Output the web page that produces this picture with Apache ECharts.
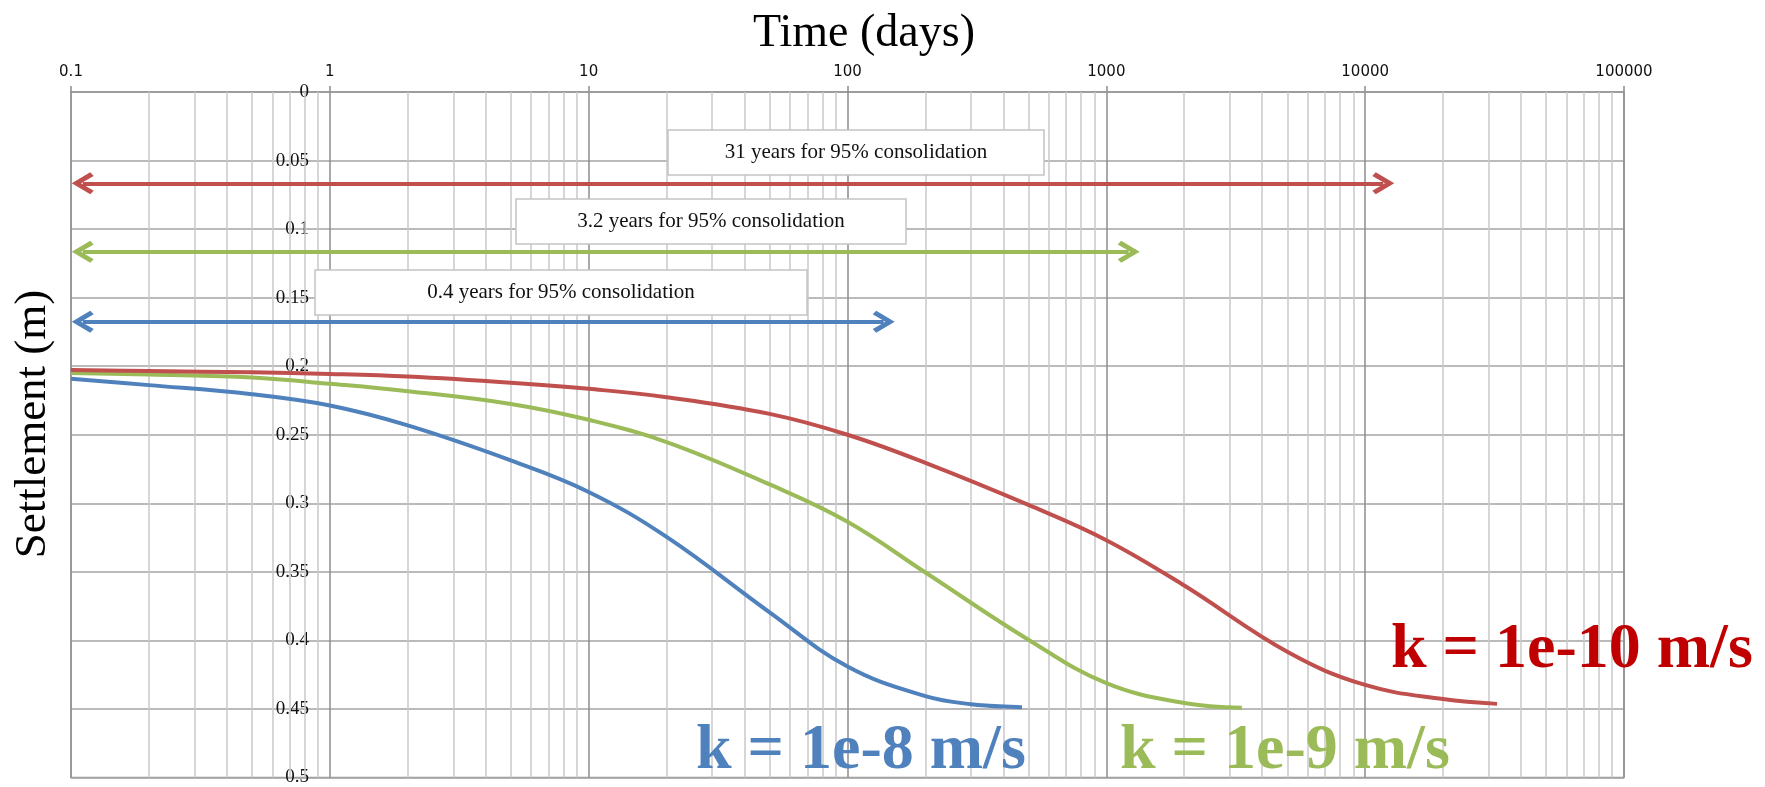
<!DOCTYPE html>
<html>
<head>
<meta charset="utf-8">
<script src="https://cdn.jsdelivr.net/npm/echarts@6.0.0/dist/echarts.min.js"></script>
<style>
  html, body { margin: 0; padding: 0; background: #ffffff; }
  #chart { width: 1765px; height: 787px; }
</style>
</head>
<body>
<div id="chart"></div>
<script>
// ---------- data ----------
const xTickLabels = ['0.1', '1', '10', '100', '1000', '10000', '100000'];
const yTickLabels = ['0', '0.05', '0.1', '0.15', '0.2', '0.25', '0.3', '0.35', '0.4', '0.45', '0.5'];

// k = 1e-8 m/s
const blueTime = [0.1, 0.2, 0.5, 1, 2, 5, 10, 20, 50, 100, 200, 300, 472];
const blueSettle = [0.2092, 0.2138, 0.2205, 0.2287, 0.2432, 0.2687, 0.2917, 0.3245, 0.3795, 0.4191, 0.4407, 0.4465, 0.4487];

// k = 1e-9 m/s
const greenTime = [0.1, 0.2, 0.5, 1, 2, 5, 10, 20, 50, 100, 200, 500, 1000, 2000, 3340];
const greenSettle = [0.2049, 0.2061, 0.2082, 0.2128, 0.2182, 0.2275, 0.2391, 0.2553, 0.2862, 0.3135, 0.3505, 0.3995, 0.4312, 0.4457, 0.4492];

// k = 1e-10 m/s
const redTime = [0.1, 0.2, 0.5, 1, 2, 5, 10, 20, 50, 100, 200, 500, 1000, 2000, 5000, 10000, 20000, 32340];
const redSettle = [0.2027, 0.2035, 0.2045, 0.2056, 0.2075, 0.2120, 0.2165, 0.2226, 0.2348, 0.2500, 0.2705, 0.3012, 0.3269, 0.3600, 0.4083, 0.4325, 0.4428, 0.4463];

// consolidation arrows (blue, green, red)
const arrowLevel = [0.1675, 0.1166, 0.0666];
const arrowStart = [0.111, 0.111, 0.111];
const arrowEnd = [138, 1220, 11750];
const boxTexts = ['0.4 years for 95% consolidation', '3.2 years for 95% consolidation', '31 years for 95% consolidation'];
const kLabels = ['k = 1e-8 m/s', 'k = 1e-9 m/s', 'k = 1e-10 m/s'];

// ---------- styling / layout ----------
const colBlue = '#4F81BD', colGreen = '#9BBB59', colRed = '#C0504D';
const seriesColors = [colBlue, colGreen, colRed];
const kColors = ['#4F81BD', '#9BBB59', '#C00000'];
const serif = '"Liberation Serif", "Times New Roman", serif';
const sans = '"DejaVu Sans", Tahoma, sans-serif';

// minor log grid positions
const minorVals = [];
for (let d = -1; d <= 4; d++) {
  for (let m = 2; m <= 9; m++) {
    minorVals.push(Number((m * Math.pow(10, d)).toPrecision(3)));
  }
}

function zip(a, b) { return a.map((v, i) => [v, b[i]]); }

const chevron = 'path://M9,0 L18,16 L15,19 L9,8 L3,19 L0,16 Z';

const chart = echarts.init(document.getElementById('chart'), null, { renderer: 'canvas' });

const boxes = [
  { x: 315, y: 270, w: 492, h: 45 },
  { x: 516, y: 199, w: 390, h: 45 },
  { x: 668, y: 130, w: 376, h: 45 }
];
const kPos = [
  { x: 696, y: 751 },
  { x: 1120, y: 751 },
  { x: 1391, y: 650 }
];

const graphics = [];
graphics.push({
  type: 'text', x: 864, y: 34, z: 100,
  style: { text: 'Time (days)', font: '46px ' + serif, fill: '#000', textAlign: 'center', textVerticalAlign: 'middle', align: 'center', verticalAlign: 'middle' }
});
graphics.push({
  type: 'text', x: 33, y: 424, rotation: Math.PI / 2, z: 100,
  style: { text: 'Settlement (m)', font: '45px ' + serif, fill: '#000', textAlign: 'center', textVerticalAlign: 'middle', align: 'center', verticalAlign: 'middle' }
});
boxes.forEach((b, i) => {
  graphics.push({
    type: 'rect', x: b.x, y: b.y, z: 90,
    shape: { x: 0, y: 0, width: b.w, height: b.h },
    style: { fill: '#ffffff', stroke: '#c3c3c3', lineWidth: 1.5 }
  });
  graphics.push({
    type: 'text', x: b.x + b.w / 2, y: b.y + b.h / 2, z: 91,
    style: { text: boxTexts[i], font: '21px ' + serif, fill: '#111', textAlign: 'center', textVerticalAlign: 'middle', align: 'center', verticalAlign: 'middle' }
  });
});
kPos.forEach((p, i) => {
  graphics.push({
    type: 'text', x: p.x, y: p.y, z: 95,
    style: { text: kLabels[i], font: 'bold 64px ' + serif, fill: kColors[i], textAlign: 'left', textVerticalAlign: 'middle', align: 'left', verticalAlign: 'middle' }
  });
});

const curveSeries = [
  { name: kLabels[0], t: blueTime, s: blueSettle },
  { name: kLabels[1], t: greenTime, s: greenSettle },
  { name: kLabels[2], t: redTime, s: redSettle }
].map((c, i) => ({
  name: c.name,
  type: 'line',
  data: zip(c.t, c.s),
  smooth: 0.4,
  showSymbol: false,
  symbol: 'none',
  silent: true,
  z: 5,
  lineStyle: { color: seriesColors[i], width: 4 },
  itemStyle: { color: seriesColors[i] }
}));

const arrowData = arrowLevel.map((lvl, i) => [
  { coord: [arrowStart[i], lvl], lineStyle: { color: seriesColors[i], width: 4, type: 'solid' }, itemStyle: { color: seriesColors[i] } },
  { coord: [arrowEnd[i], lvl] }
]);

const option = {
  animation: false,
  backgroundColor: '#ffffff',
  textStyle: { fontFamily: serif },
  grid: { left: 71, right: 141, top: 92, bottom: 8, show: true, borderColor: '#9a9a9a', borderWidth: 1.5, backgroundColor: 'transparent' },
  xAxis: {
    type: 'log',
    logBase: 10,
    min: 0.1,
    max: 100000,
    splitNumber: 6,
    position: 'top',
    axisLine: { show: true, lineStyle: { color: '#9a9a9a', width: 1.5 } },
    axisTick: { show: true, inside: false, length: 6, lineStyle: { color: '#8a8a8a', width: 1.5 } },
    axisLabel: {
      show: true, margin: 12, color: '#111', fontFamily: sans, fontSize: 15,
      formatter: function (v) {
        const idx = Math.round(Math.log10(v)) + 1;
        return xTickLabels[idx] !== undefined ? xTickLabels[idx] : '';
      }
    },
    splitLine: { show: true, lineStyle: { color: '#8c8c8c', width: 1.5 } },
    minorTick: { show: false },
    minorSplitLine: { show: false }
  },
  yAxis: {
    type: 'value',
    inverse: true,
    min: 0,
    max: 0.5,
    interval: 0.05,
    axisLine: { show: true, lineStyle: { color: '#9a9a9a', width: 1.5 } },
    axisTick: { show: false },
    axisLabel: {
      inside: true, margin: 238, align: 'right', color: '#111', fontFamily: serif, fontSize: 19,
      formatter: function (v) { return yTickLabels[Math.round(v / 0.05)]; }
    },
    splitLine: { show: true, lineStyle: { color: '#a3a3a3', width: 1.5 } }
  },
  series: [
    {
      name: 'minorGrid',
      type: 'line',
      data: [[1, 0]],
      symbol: 'none',
      showSymbol: false,
      silent: true,
      z: 1,
      lineStyle: { opacity: 0 },
      markLine: {
        silent: true,
        symbol: ['none', 'none'],
        animation: false,
        label: { show: false },
        lineStyle: { color: '#c9c9c9', width: 1.5, type: 'solid' },
        emphasis: { disabled: true },
        data: minorVals.map(v => ({ xAxis: v }))
      }
    },
    {
      name: 'arrows',
      type: 'line',
      data: [[1, 0]],
      symbol: 'none',
      showSymbol: false,
      silent: true,
      z: 6,
      lineStyle: { opacity: 0 },
      markLine: {
        silent: true,
        symbol: [chevron, chevron],
        symbolSize: 22,
        animation: false,
        label: { show: false },
        emphasis: { disabled: true },
        data: arrowData
      }
    }
  ].concat(curveSeries),
  graphic: graphics
};

chart.setOption(option);
</script>
</body>
</html>
